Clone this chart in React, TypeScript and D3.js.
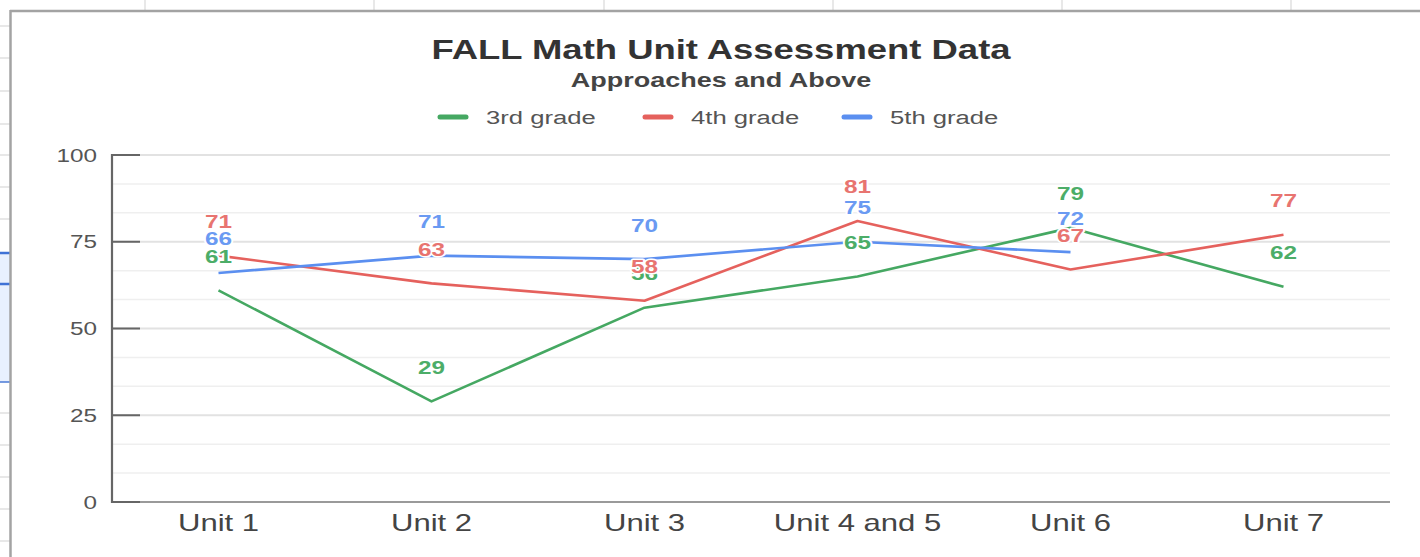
import React from "react";
import * as d3 from "d3";

const units = ["Unit 1", "Unit 2", "Unit 3", "Unit 4 and 5", "Unit 6", "Unit 7"];
const grade3 = [61, 29, 56, 65, 79, 62];
const grade4 = [71, 63, 58, 81, 67, 77];
const grade5: (number | null)[] = [66, 71, 70, 75, 72, null];
const seriesNames = ["3rd grade", "4th grade", "5th grade"];
const seriesColors = ["#45a862", "#e5615d", "#5b8ff0"];
const labelColors = ["#4cad68", "#e87470", "#6a9af2"];
const yTicks = [0, 25, 50, 75, 100];
const title = "FALL Math Unit Assessment Data";
const subtitle = "Approaches and Above";

const W = 1420;
const H = 557;
const SX = 1.35;
const FONT = "'Liberation Sans', Arial, sans-serif";

function SText(props: {
  x: number; y: number; size: number; fill: string; anchor?: string; weight?: string;
  halo?: boolean; children: React.ReactNode;
}) {
  const { x, y, size, fill, anchor = "start", weight = "normal", halo, children } = props;
  return (
    <text
      transform={`translate(${x},${y}) scale(${SX},1)`}
      fontSize={size}
      fill={fill}
      textAnchor={anchor}
      fontWeight={weight}
      fontFamily={FONT}
      stroke={halo ? "#fff" : undefined}
      strokeWidth={halo ? 3 : undefined}
      strokeLinejoin="round"
      paintOrder="stroke"
    >
      {children}
    </text>
  );
}

export default function App() {
  const x = d3.scalePoint<string>().domain(units).range([112, 1390]).padding(0.5);
  const y = d3.scaleLinear().domain([0, 100]).range([502, 155]);
  const series = [grade3, grade4, grade5];

  const line = d3
    .line<number | null>()
    .defined((d) => d !== null)
    .x((_, i) => x(units[i]) as number)
    .y((d) => y(d as number));

  const minor: number[] = [];
  for (let i = 0; i <= 12; i++) if (i % 3 !== 0) minor.push((i * 25) / 3);

  const sheetRows = [26, 58, 91, 124, 155, 187, 219, 316, 350, 413, 445, 477, 509, 541];
  const sheetCols = [145, 374, 604, 833, 1062, 1291];

  const legendX = [440, 645, 844];
  const labelOrder = [0, 2, 1];

  return (
    <svg width={W} height={H} style={{ position: "absolute", left: 0, top: 0 }}>
      <rect x={0} y={0} width={W} height={H} fill="#fff" />
      {/* spreadsheet background */}
      {sheetCols.map((c) => (
        <line key={"c" + c} x1={c} x2={c} y1={0} y2={11} stroke="#d9d9d9" strokeWidth={1.2} />
      ))}
      {sheetRows.map((r) => (
        <line key={"r" + r} x1={0} x2={10} y1={r} y2={r} stroke="#d9d9d9" strokeWidth={1.2} />
      ))}
      <rect x={0} y={253} width={10} height={129} fill="#e8f0fe" />
      <line x1={0} x2={10} y1={253} y2={253} stroke="#3f72d6" strokeWidth={2.5} />
      <line x1={0} x2={10} y1={284} y2={284} stroke="#3f72d6" strokeWidth={2.5} />
      <line x1={0} x2={10} y1={382} y2={382} stroke="#4a7ad6" strokeWidth={1.5} />

      {/* chart frame */}
      <rect x={10} y={11} width={W} height={H} fill="#fff" />
      <line x1={10.5} x2={10.5} y1={10} y2={H} stroke="#a3a3a3" strokeWidth={2.5} />
      <line x1={10} x2={W} y1={11} y2={11} stroke="#a3a3a3" strokeWidth={2.5} />

      {/* titles */}
      <SText x={721} y={59} size={27} fill="#333" anchor="middle" weight="bold">{title}</SText>
      <SText x={721} y={87} size={20} fill="#444" anchor="middle" weight="bold">{subtitle}</SText>

      {/* legend */}
      {seriesNames.map((n, i) => (
        <g key={n}>
          <line x1={legendX[i]} x2={legendX[i] + 26} y1={117} y2={117} stroke={seriesColors[i]} strokeWidth={5} strokeLinecap="round" />
          <SText x={legendX[i] + 46} y={124} size={19} fill="#555">{n}</SText>
        </g>
      ))}

      {/* grid */}
      {minor.map((v) => (
        <line key={"m" + v} x1={112} x2={1390} y1={y(v)} y2={y(v)} stroke="#efefef" strokeWidth={1.5} />
      ))}
      {yTicks.map((v) => (
        <g key={"t" + v}>
          <line x1={112} x2={1390} y1={y(v)} y2={y(v)} stroke={v === 0 ? "#9a9a9a" : "#e2e2e2"} strokeWidth={2} />
          <line x1={112} x2={140} y1={y(v)} y2={y(v)} stroke="#666" strokeWidth={2} />
          <SText x={97} y={y(v) + 6.5} size={18} fill="#555" anchor="end">{v}</SText>
        </g>
      ))}
      <line x1={112} x2={112} y1={y(100) - 1} y2={y(0) + 1} stroke="#666" strokeWidth={2.2} />

      {/* x labels */}
      {units.map((u) => (
        <SText key={u} x={x(u) as number} y={531} size={23} fill="#444" anchor="middle">{u}</SText>
      ))}

      {/* lines */}
      {series.map((s, i) => (
        <path key={"l" + i} d={line(s) || ""} fill="none" stroke={seriesColors[i]} strokeWidth={2.6} strokeLinejoin="round" />
      ))}

      {/* data labels */}
      {labelOrder.map((si) =>
        series[si].map((v, j) =>
          v === null ? null : (
            <SText key={`d${si}-${j}`} x={x(units[j]) as number} y={y(v) - 34 + 6.5} size={18} fill={labelColors[si]} anchor="middle" weight="bold" halo>
              {v}
            </SText>
          )
        )
      )}
    </svg>
  );
}
